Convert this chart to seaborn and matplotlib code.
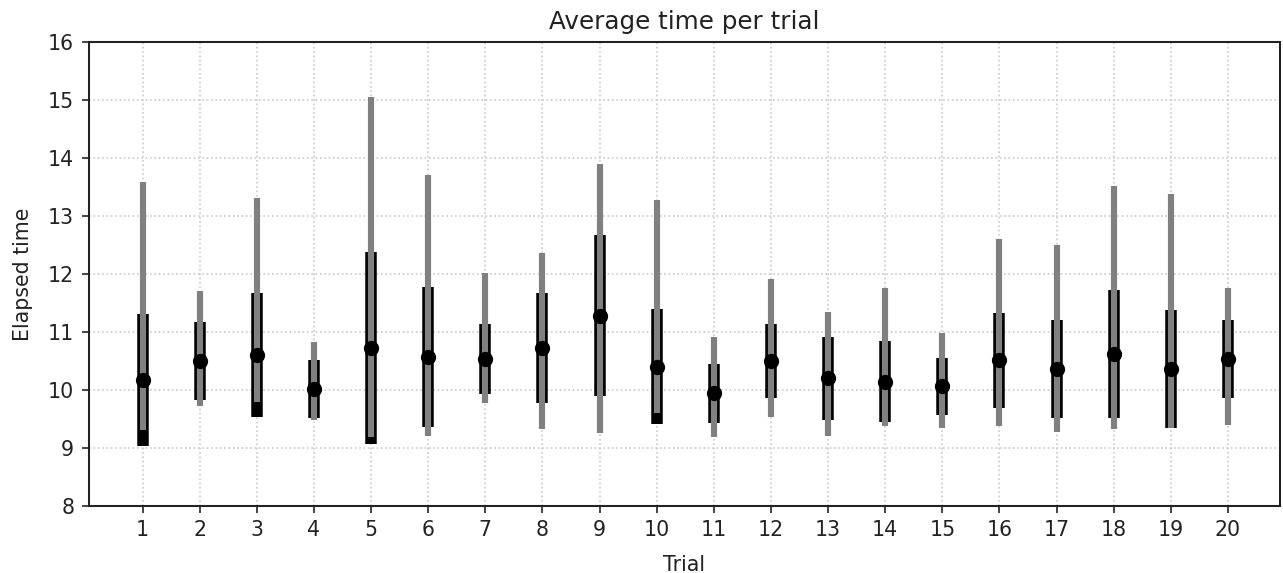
import matplotlib
matplotlib.use("Agg")
import matplotlib.pyplot as plt
import seaborn as sns
import numpy as np
import pandas as pd

# values
trials = list(range(1, 21))
means = [10.17, 10.50, 10.60, 10.02, 10.72, 10.57, 10.53, 10.72, 11.28, 10.40,
         9.94, 10.50, 10.20, 10.14, 10.06, 10.51, 10.36, 10.62, 10.36, 10.53]
stds = [1.14, 0.67, 1.07, 0.50, 1.66, 1.21, 0.60, 0.95, 1.39, 0.99,
        0.51, 0.64, 0.72, 0.70, 0.49, 0.82, 0.85, 1.10, 1.01, 0.67]
mins = [9.31, 9.72, 9.80, 9.49, 9.19, 9.21, 9.77, 9.32, 9.25, 9.60,
        9.19, 9.54, 9.21, 9.37, 9.35, 9.37, 9.28, 9.33, 9.35, 9.40]
maxs = [13.59, 11.71, 13.30, 10.83, 15.05, 13.71, 12.01, 12.36, 13.90, 13.28,
        10.92, 11.91, 11.34, 11.75, 10.98, 12.60, 12.49, 13.52, 13.38, 11.75]

df = pd.DataFrame({"Trial": trials, "mean": means, "std": stds,
                   "min": mins, "max": maxs})

sns.set_style("ticks")
plt.rcParams['font.family'] = ['DejaVu Sans']

fig, ax = plt.subplots(figsize=(1283 / 148, 573 / 148), dpi=148)
fig.subplots_adjust(left=0.069, right=0.998, top=0.927, bottom=0.117)

ax.grid(True, linestyle=":", color="#c8c8c8", linewidth=0.8, zorder=0)
ax.set_axisbelow(True)

# mean +/- std (black, wide)
ax.vlines(df["Trial"], df["mean"] - df["std"], df["mean"] + df["std"],
          color="black", linewidth=5.6, capstyle="butt", zorder=2)
# min .. max (gray, narrow)
ax.vlines(df["Trial"], df["min"], df["max"],
          color="#808080", linewidth=3.0, capstyle="butt", zorder=3)
# mean dot
sns.scatterplot(data=df, x="Trial", y="mean", color="black", s=55,
                edgecolor="black", linewidth=0, zorder=4, ax=ax)

ax.set_xlim(0.055, 20.92)
ax.set_ylim(8, 16)
ax.set_xticks(trials)
ax.set_yticks(range(8, 17))
ax.tick_params(labelsize=10, colors="#222222", length=3.5, width=0.8)
for s in ax.spines.values():
    s.set_color("#222222")
    s.set_linewidth(1.0)

ax.set_title("Average time per trial", fontsize=12, color="#222222")
ax.set_xlabel("Trial", fontsize=10, color="#222222", labelpad=7)
ax.set_ylabel("Elapsed time", fontsize=10, color="#222222", labelpad=7)

fig.savefig("out.png", dpi=148)
